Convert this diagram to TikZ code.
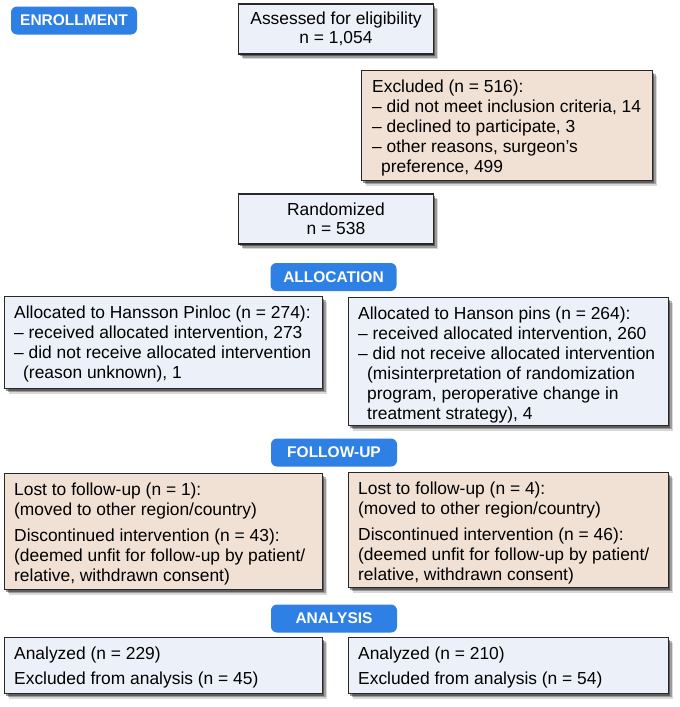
\documentclass[tikz,border=0pt]{standalone}
\usepackage{fontspec}
\setmainfont{Liberation Sans}
\usetikzlibrary{shadows,backgrounds}
\definecolor{pillblue}{RGB}{46,128,228}
\definecolor{boxblue}{RGB}{236,241,249}
\definecolor{boxtan}{RGB}{241,225,212}
\definecolor{edgecol}{RGB}{40,40,40}
\tikzset{
  box/.style={draw=edgecol, line width=1.1pt, inner sep=0pt, anchor=north west,
    drop shadow={shadow xshift=1.5pt, shadow yshift=-2pt, opacity=0.40, fill=black},
    drop shadow={shadow xshift=3pt, shadow yshift=-3.5pt, opacity=0.28, fill=black},
    drop shadow={shadow xshift=4.5pt, shadow yshift=-5pt, opacity=0.15, fill=black}},
  bluebox/.style={box, fill=boxblue},
  tanbox/.style={box, fill=boxtan},
  pill/.style={fill=pillblue, rounded corners=6pt, minimum width=126pt, minimum height=28pt,
    text=white, font=\fontsize{15.5}{18}\selectfont\bfseries, inner sep=0pt},
  txt/.style={anchor=north west, inner sep=0pt, align=left, font=\fontsize{17.4}{20}\selectfont},
  ctxt/.style={align=center, font=\fontsize{17.4}{19}\selectfont},
  link/.style={line width=2.7pt, black},
}
\newcommand{\fs}{\rule{0pt}{13pt}}
\newcommand{\hang}{\hspace*{9pt}}
\begin{document}
\begin{tikzpicture}[x=1pt, y=1pt]
\useasboundingbox (0,0) rectangle (680,-707);
\fill[white] (0,0) rectangle (680,-707);

% pills
\node[pill] (penroll) at (74,-20.5) {ENROLLMENT};
\node[pill] (palloc) at (333.5,-277) {ALLOCATION};
\node[pill] (pfollow) at (334,-452.5) {FOLLOW-UP};
\node[pill] (panal) at (334,-618.5) {ANALYSIS};

% enrollment
\node[bluebox, ctxt, anchor=center, minimum width=195pt, minimum height=50pt] (assess) at (336,-29)
  {Assessed for eligibility\\n = 1,054};
\node[tanbox, minimum width=291pt, minimum height=110pt] (excl) at (361,-70) {};
\node[txt] (excltxt) at ([xshift=11pt, yshift=-9pt]excl.north west)
  {\fs Excluded (n = 516):\\
   – did not meet inclusion criteria, 14\\
   – declined to participate, 3\\
   – other reasons, surgeon’s\\
   \hang preference, 499};
\node[bluebox, ctxt, anchor=center, minimum width=195pt, minimum height=50pt] (rand) at (336,-219)
  {Randomized\\n = 538};

% allocation
\node[bluebox, minimum width=318pt, minimum height=92pt] (allocL) at (4,-296) {};
\node[txt] (allocLtxt) at ([xshift=10pt, yshift=-9pt]allocL.north west)
  {\fs Allocated to Hansson Pinloc (n = 274):\\
   – received allocated intervention, 273\\
   – did not receive allocated intervention\\
   \hang(reason unknown), 1};
\node[bluebox, minimum width=320pt, minimum height=128pt] (allocR) at (348,-297) {};
\node[txt] (allocRtxt) at ([xshift=10pt, yshift=-9pt]allocR.north west)
  {\fs Allocated to Hanson pins (n = 264):\\
   – received allocated intervention, 260\\
   – did not receive allocated intervention\\
   \hang(misinterpretation of randomization\\
   \hang program, peroperative change in\\
   \hang treatment strategy), 4};

% follow-up
\node[tanbox, minimum width=318pt, minimum height=116pt] (lostL) at (4,-473) {};
\node[txt] (lostLtxt) at ([xshift=10pt, yshift=-9pt]lostL.north west)
  {\fs Lost to follow-up (n = 1):\\
   (moved to other region/country)\\[6pt]
   Discontinued intervention (n = 43):\\
   (deemed unfit for follow-up by patient/\\
   relative, withdrawn consent)};
\node[tanbox, minimum width=320pt, minimum height=115pt] (lostR) at (348,-472) {};
\node[txt] (lostRtxt) at ([xshift=10pt, yshift=-9pt]lostR.north west)
  {\fs Lost to follow-up (n = 4):\\
   (moved to other region/country)\\[6pt]
   Discontinued intervention (n = 46):\\
   (deemed unfit for follow-up by patient/\\
   relative, withdrawn consent)};

% analysis
\node[bluebox, minimum width=318pt, minimum height=56pt] (anaL) at (4,-637) {};
\node[txt] (anaLtxt) at ([xshift=10pt, yshift=-9pt]anaL.north west)
  {\fs Analyzed (n = 229)\\[5pt]
   Excluded from analysis (n = 45)};
\node[bluebox, minimum width=320pt, minimum height=56pt] (anaR) at (348,-637) {};
\node[txt] (anaRtxt) at ([xshift=10pt, yshift=-9pt]anaR.north west)
  {\fs Analyzed (n = 210)\\[5pt]
   Excluded from analysis (n = 54)};

% connectors
\coordinate (colL) at (160,0);
\coordinate (colR) at (517,0);
\begin{scope}[on background layer]
  \draw[link] (assess.south) -- (rand.north);
  \draw[link] (assess.south |- excl.west) -- (excl.west);
  \draw[link] (rand.west) -| (colL |- allocL.north);
  \draw[link] (rand.east) -| (colR |- allocR.north);
  \draw[link] (colL |- allocL.south) -- (colL |- lostL.north);
  \draw[link] (colR |- allocR.south) -- (colR |- lostR.north);
  \draw[link] (colL |- lostL.south) -- (colL |- anaL.north);
  \draw[link] (colR |- lostR.south) -- (colR |- anaR.north);
\end{scope}
\end{tikzpicture}
\end{document}
